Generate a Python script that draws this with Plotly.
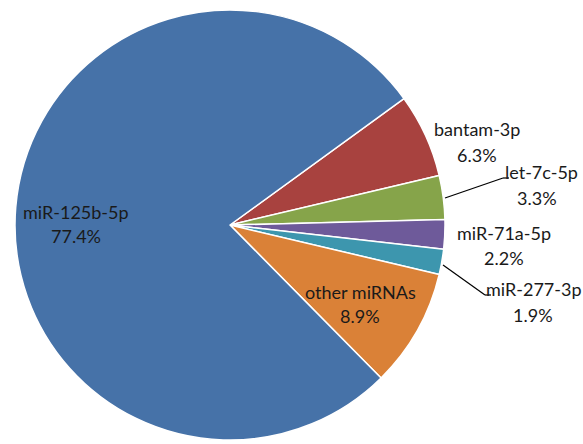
import plotly.graph_objects as go

labels = ["bantam-3p", "let-7c-5p", "miR-71a-5p", "miR-277-3p", "other miRNAs", "miR-125b-5p"]
values = [6.3, 3.3, 2.2, 1.9, 8.9, 77.4]
colors = ["#A8423F", "#86A44A", "#6E5A9A", "#3D96AE", "#DA8137", "#4672A8"]

W, H = 583, 444
FONT = "Lato"
FS = 18

CX, CY, R = 230, 225, 215

fig = go.Figure()
fig.add_trace(go.Pie(
    labels=labels,
    values=values,
    sort=False,
    direction="clockwise",
    rotation=54,
    marker=dict(colors=colors, line=dict(color="white", width=1.5)),
    textinfo="none",
    showlegend=False,
    hoverinfo="label+percent",
    domain=dict(x=[(CX - R) / W, (CX + R) / W],
                y=[(H - CY - R) / H, (H - CY + R) / H]),
))


def px(x, y):
    return x / W, 1 - y / H


# label positions (layout only): name centre, percent centre, leader line
label_pos = [
    (0, (477, 129), (477, 155), None),
    (1, (541, 172), (537, 198), (445, 198, 503, 178)),
    (2, (504, 233), (504, 258), None),
    (3, (534, 289), (533, 315), (443, 265, 485, 295)),
    (4, (360, 292), (360, 316), None),
    (5, (76, 212), (76, 236), None),
]
for i, (nx, ny), (qx, qy), lead in label_pos:
    for (tx, ty), txt in (((nx, ny), labels[i]), ((qx, qy), f"{values[i]}%")):
        x, y = px(tx, ty)
        fig.add_annotation(
            x=x, y=y, xref="paper", yref="paper",
            text=txt, showarrow=False, align="center",
            font=dict(family=FONT, size=FS, color="#1a1a1a"),
            xanchor="center", yanchor="middle",
        )
    if lead:
        x0, y0, x1, y1 = lead
        fig.add_shape(type="line", xref="paper", yref="paper",
                      x0=x0 / W, y0=1 - y0 / H, x1=x1 / W, y1=1 - y1 / H,
                      line=dict(color="black", width=1.2))
        fig.add_shape(type="line", xref="paper", yref="paper",
                      x0=x1 / W, y0=1 - y1 / H, x1=(x1 + 6) / W, y1=1 - y1 / H,
                      line=dict(color="black", width=1.2))

fig.update_layout(
    width=W, height=H,
    margin=dict(l=0, r=0, t=0, b=0),
    paper_bgcolor="white",
    plot_bgcolor="white",
)
fig.write_html("out.html")
